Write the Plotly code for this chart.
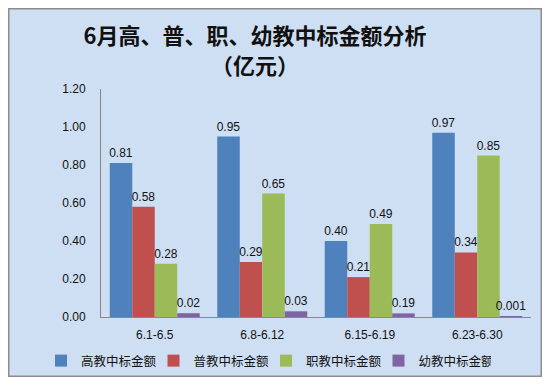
import plotly.graph_objects as go

categories = ["6.1-6.5", "6.8-6.12", "6.15-6.19", "6.23-6.30"]
series_names = ["高教中标金额", "普教中标金额", "职教中标金额", "幼教中标金额"]
higher_edu = [0.81, 0.95, 0.40, 0.97]
general_edu = [0.58, 0.29, 0.21, 0.34]
vocational_edu = [0.28, 0.65, 0.49, 0.85]
preschool_edu = [0.02, 0.03, 0.019, 0.001]
preschool_labels = ["0.02", "0.03", "0.19", "0.001"]
y_ticks = [0.0, 0.2, 0.4, 0.6, 0.8, 1.0, 1.2]
title_line1 = "6月高、普、职、幼教中标金额分析"
title_line2 = "（亿元）"

colors = ["#4f81bd", "#c0504d", "#9bbb59", "#8064a2"]

values = [higher_edu, general_edu, vocational_edu, preschool_edu]
labels = [
    [f"{v:.2f}" for v in higher_edu],
    [f"{v:.2f}" for v in general_edu],
    [f"{v:.2f}" for v in vocational_edu],
    preschool_labels,
]

fig = go.Figure()
for name, vals, lab, col in zip(series_names, values, labels, colors):
    fig.add_trace(go.Bar(
        x=categories, y=vals, name=name, marker=dict(color=col, line=dict(width=0)),
        text=lab, textposition="outside", cliponaxis=False, constraintext="none",
        textfont=dict(family="Liberation Sans", size=12, color="#111"),
    ))

# page has an 8px body margin, so the figure is sized to fit the 550x385 window
W, H = 534, 369
L, R, T, B = 93, 11, 81, 60
pw, ph = W - L - R, H - T - B

def px_x(p):
    return (p - L) / pw

def px_y(p):
    return (H - B - p) / ph

fig.add_shape(type="rect", xref="paper", yref="paper",
              x0=px_x(0.75), x1=px_x(W - 0.75), y0=px_y(H - 0.75), y1=px_y(0.75),
              fillcolor="#cfdff3", line=dict(color="#8c8c8c", width=1.5), layer="below")

title_font = dict(family="Noto Sans CJK SC", size=22, color="#111")
fig.add_annotation(text=f"<b>{title_line2}</b>", xref="paper", yref="paper",
                   x=px_x(247), y=px_y(56), xanchor="center", yanchor="middle",
                   showarrow=False, font=title_font)

fig.update_layout(
    width=W, height=H,
    margin=dict(l=L, r=R, t=T, b=B, autoexpand=False),
    paper_bgcolor="white", plot_bgcolor="rgba(0,0,0,0)",
    barmode="group", bargap=0.163, bargroupgap=0,
    title=dict(text=f"<b>{title_line1}</b>",
               x=247 / W, xref="container", xanchor="center", y=1 - 28 / H, yanchor="middle",
               font=title_font),
    showlegend=True,
    legend=dict(orientation="h", x=px_x(33), xref="paper", xanchor="left",
                y=px_y(338), yref="paper", yanchor="top",
                font=dict(family="Noto Sans CJK SC", size=12.5, color="#111"),
                bgcolor="rgba(0,0,0,0)", itemwidth=30, traceorder="normal",
                entrywidth=67.5, entrywidthmode="pixels"),
    xaxis=dict(showline=True, linecolor="#888", linewidth=1, showgrid=False,
               ticks="", tickangle=0, ticklabelstandoff=7,
               tickfont=dict(family="Liberation Sans", size=12, color="#111")),
    yaxis=dict(range=[0, 1.2], tickvals=y_ticks, tickformat=".2f",
               showline=True, linecolor="#888", linewidth=1, showgrid=False,
               zeroline=False, ticks="", ticklabelstandoff=12,
               tickfont=dict(family="Liberation Sans", size=12, color="#111")),
)

fig.write_html("out.html")
